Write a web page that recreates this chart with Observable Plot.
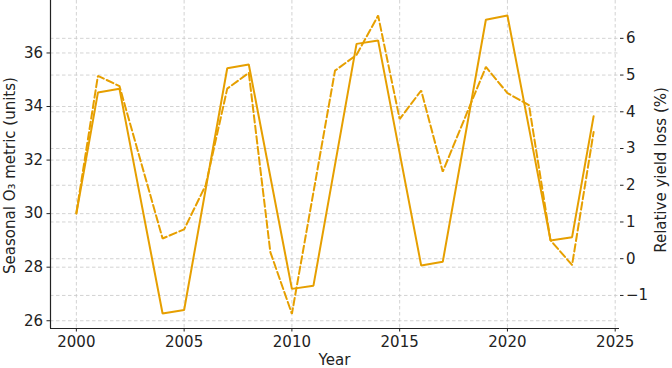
<!DOCTYPE html>
<html>
<head>
<meta charset="utf-8">
<script src="https://cdn.jsdelivr.net/npm/d3@7"></script>
<script src="https://cdn.jsdelivr.net/npm/@observablehq/plot@0.6"></script>
<style>
  html, body { margin: 0; padding: 0; background: #fff; }
</style>
</head>
<body>
<div id="chart"></div>
<script>
// Seasonal O3 metric (left axis, solid line)
const o3Years  = [2000, 2001, 2002, 2004, 2005, 2007, 2008, 2010, 2011, 2013, 2014, 2016, 2017, 2019, 2020, 2022, 2023, 2024];
const o3Values = [30.0, 34.52, 34.66, 26.27, 26.40, 35.43, 35.57, 27.19, 27.31, 36.34, 36.47, 28.06, 28.20, 37.24, 37.40, 29.00, 29.12, 33.64];

// Relative yield loss (right axis, dashed line)
const lossYears  = [2000, 2001, 2002, 2004, 2005, 2006, 2007, 2008, 2009, 2010, 2012, 2013, 2014, 2015, 2016, 2017, 2019, 2020, 2021, 2022, 2023, 2024];
const lossValues = [1.25, 4.98, 4.70, 0.55, 0.80, 2.0, 4.63, 5.06, 0.18, -1.50, 5.12, 5.55, 6.62, 3.80, 4.58, 2.37, 5.22, 4.51, 4.18, 0.50, -0.17, 3.45];

// Tick labels
const xTicks = [2000, 2005, 2010, 2015, 2020, 2025];
const leftTicks = [26, 28, 30, 32, 34, 36];
const rightTicks = [-1, 0, 1, 2, 3, 4, 5, 6];

// Axis titles
const xTitle = "Year";
const leftTitle = "Seasonal O\u2083 metric (units)";
const rightTitle = "Relative yield loss (%)";

// Scale domains
const xDomain = [1998.8, 2025.2];
const leftDomain = [25.71, 37.96];
const rightDomain = [-1.9, 7.03];

const toLeft = v => leftDomain[0] + (v - rightDomain[0]) / (rightDomain[1] - rightDomain[0]) * (leftDomain[1] - leftDomain[0]);
const fromLeft = v => rightDomain[0] + (v - leftDomain[0]) / (leftDomain[1] - leftDomain[0]) * (rightDomain[1] - rightDomain[0]);

const o3 = o3Years.map((y, i) => ({year: y, value: o3Values[i]}));
const loss = lossYears.map((y, i) => ({year: y, value: toLeft(lossValues[i])}));

const color = "#E69F00";
const gridStyle = {stroke: "#c8c8c8", strokeOpacity: 1, strokeWidth: 0.8, strokeDasharray: "3.5,2.5"};
const fmtInt = v => { const r = Math.round(v); return r < 0 ? "\u2212" + (-r) : String(r); };

const W = 672, H = 368, mT = 0, mB = 40, mL = 50, mR = 53;

const chart = Plot.plot({
  width: W,
  height: H,
  marginTop: mT,
  marginBottom: mB,
  marginLeft: mL,
  marginRight: mR,
  style: {fontFamily: "DejaVu Sans", fontSize: "15px", color: "#222", background: "#fff"},
  x: {domain: xDomain},
  y: {domain: leftDomain},
  marks: [
    Plot.gridX(xTicks, gridStyle),
    Plot.gridY(leftTicks, gridStyle),
    Plot.gridY(rightTicks.map(toLeft), gridStyle),
    Plot.line(o3, {x: "year", y: "value", stroke: color, strokeWidth: 2, strokeLinejoin: "miter"}),
    Plot.line(loss, {x: "year", y: "value", stroke: color, strokeWidth: 2, strokeDasharray: "7.4,3.2", strokeLinejoin: "miter"}),
    Plot.ruleX([xDomain[0]], {stroke: "#222", strokeWidth: 1.2}),
    Plot.ruleY([leftDomain[0]], {stroke: "#222", strokeWidth: 1.2}),
    Plot.axisX(xTicks, {anchor: "bottom", tickSize: 3.5, tickPadding: 4, tickFormat: d => String(d), label: null}),
    Plot.axisY(leftTicks, {anchor: "left", tickSize: 3.5, tickPadding: 4, tickFormat: d => String(d), label: null}),
    Plot.axisY(rightTicks.map(toLeft), {anchor: "right", tickSize: 3.5, tickPadding: 3, tickFormat: d => fmtInt(fromLeft(d)), label: null})
  ]
});

// Axis titles as real SVG text
const svg = d3.select(chart);
const frameMidX = (mL + (W - mR)) / 2;
svg.append("text")
  .attr("x", frameMidX).attr("y", 365)
  .attr("text-anchor", "middle")
  .attr("fill", "#222").attr("font-size", 15)
  .text(xTitle);
svg.append("text")
  .attr("transform", "translate(14.5,175.5) rotate(-90)")
  .attr("text-anchor", "middle")
  .attr("fill", "#222").attr("font-size", 15)
  .text(leftTitle);
svg.append("text")
  .attr("transform", "translate(665.5,170) rotate(-90)")
  .attr("text-anchor", "middle")
  .attr("fill", "#222").attr("font-size", 15)
  .text(rightTitle);

document.getElementById("chart").appendChild(chart);
</script>
</body>
</html>
